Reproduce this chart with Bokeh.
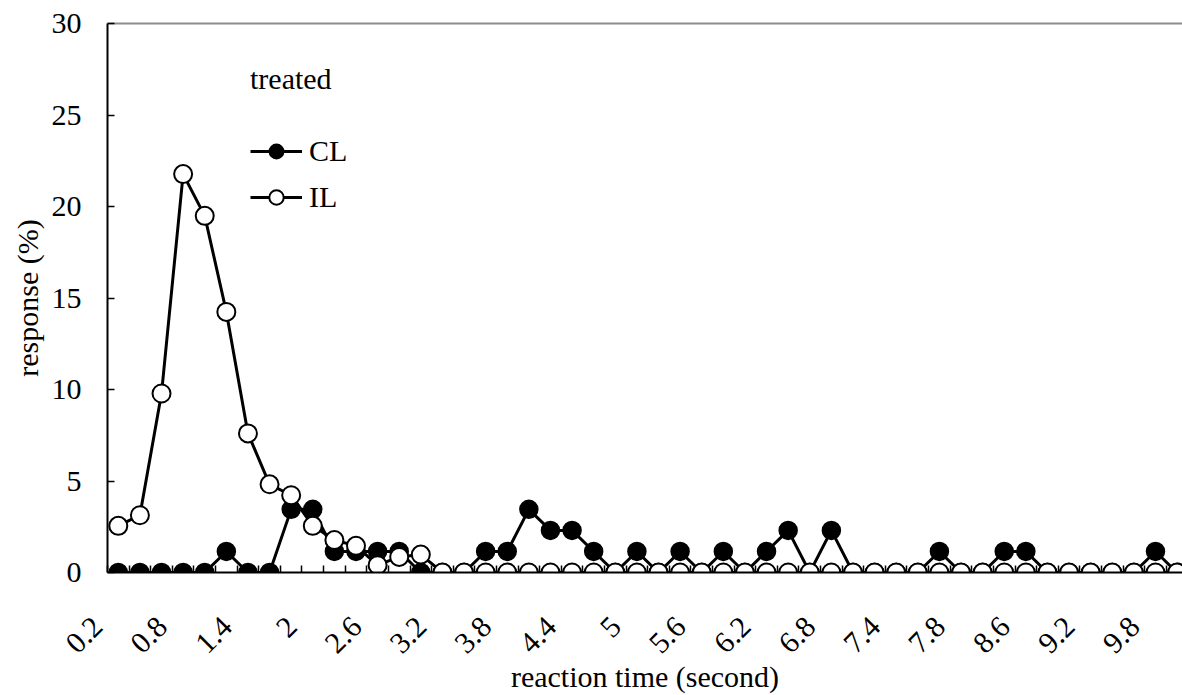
import math
from bokeh.plotting import figure
from bokeh.models import Range1d, FixedTicker, LinearAxis, Legend, LegendItem, ColumnDataSource
from bokeh.embed import file_html
from bokeh.resources import INLINE

# ---- data ----
reaction_time = [0.2, 0.4, 0.6, 0.8, 1.0, 1.2, 1.4, 1.6, 1.8, 2.0,
                 2.2, 2.4, 2.6, 2.8, 3.0, 3.2, 3.4, 3.6, 3.8, 4.0,
                 4.2, 4.4, 4.6, 4.8, 5.0, 5.2, 5.4, 5.6, 5.8, 6.0,
                 6.2, 6.4, 6.6, 6.8, 7.0, 7.2, 7.4, 7.6, 7.8, 8.0,
                 8.2, 8.4, 8.6, 8.8, 9.0, 9.2, 9.4, 9.6, 9.8, 10.0]

cl_response = [0, 0, 0, 0, 0, 1.15, 0, 0, 3.45, 3.45,
               1.15, 1.15, 1.15, 1.15, 0, 0, 0, 1.15, 1.15, 3.45,
               2.3, 2.3, 1.15, 0, 1.15, 0, 1.15, 0, 1.15, 0,
               1.15, 2.3, 0, 2.3, 0, 0, 0, 0, 1.15, 0,
               0, 1.15, 1.15, 0, 0, 0, 0, 0, 1.15, 0]

il_response = [2.55, 3.13, 9.78, 21.77, 19.49, 14.24, 7.6, 4.82, 4.22, 2.55,
               1.77, 1.46, 0.4, 0.85, 0.98, 0, 0, 0, 0, 0,
               0, 0, 0, 0, 0, 0, 0, 0, 0, 0,
               0, 0, 0, 0, 0, 0, 0, 0, 0, 0,
               0, 0, 0, 0, 0, 0, 0, 0, 0, 0]

tick_labels = ["0.2", "0.8", "1.4", "2", "2.6", "3.2", "3.8", "4.4", "5",
               "5.6", "6.2", "6.8", "7.4", "7.8", "8.6", "9.2", "9.8"]
y_ticks = [0, 5, 10, 15, 20, 25, 30]

FONT = "Liberation Serif"

idx = list(range(len(reaction_time)))
label_idx = idx[::3]
# rotated labels end up-left of their category (as in the reference)
label_pos = [i - 0.5 for i in label_idx]
PAD = "\u00a0\u00a0"
src = ColumnDataSource(dict(x=idx, rt=reaction_time, cl=cl_response, il=il_response))

p = figure(width=1182, height=695,
           x_range=Range1d(-0.5, len(idx) - 0.75), y_range=Range1d(0, 30),
           output_backend="svg", toolbar_location=None,
           min_border_left=107, min_border_right=0, min_border_top=23, min_border_bottom=123)
p.xgrid.visible = False
p.ygrid.visible = False
p.outline_line_color = None
p.background_fill_color = "white"
p.border_fill_color = "white"

# x axis: tick marks between categories, labels every 3rd category
xa = p.xaxis[0]
xa.ticker = FixedTicker(ticks=label_pos, minor_ticks=[i - 0.5 for i in range(len(idx) + 1)])
xa.major_label_overrides = {pos: lab + PAD for pos, lab in zip(label_pos, tick_labels)}
xa.major_tick_in = 0
xa.major_tick_out = 0
xa.minor_tick_in = 7
xa.minor_tick_out = 0
xa.minor_tick_line_color = "black"
xa.minor_tick_line_width = 1.5
xa.axis_line_color = "black"
xa.axis_line_width = 2
xa.major_label_orientation = math.pi / 4
xa.major_label_standoff = 38
xa.major_label_text_font = FONT
xa.major_label_text_font_size = "30px"
xa.major_label_text_color = "black"
xa.axis_label = "reaction time (second)"
xa.axis_label_text_font = FONT
xa.axis_label_text_font_size = "30px"
xa.axis_label_text_font_style = "normal"
xa.axis_label_text_color = "black"
xa.axis_label_standoff = -14

ya = p.yaxis[0]
ya.ticker = FixedTicker(ticks=y_ticks)
ya.major_tick_in = 7
ya.major_tick_out = 0
ya.major_tick_line_width = 1.5
ya.minor_tick_line_color = None
ya.axis_line_color = "black"
ya.axis_line_width = 2
ya.major_label_standoff = 26
ya.major_label_text_font = FONT
ya.major_label_text_font_size = "30px"
ya.major_label_text_color = "black"
ya.axis_label = "response (%)"
ya.axis_label_text_font = FONT
ya.axis_label_text_font_size = "30px"
ya.axis_label_text_font_style = "normal"
ya.axis_label_text_color = "black"
ya.axis_label_standoff = 5

top_axis = LinearAxis(ticker=FixedTicker(ticks=[]), axis_line_color="#8c8c8c", axis_line_width=2,
                      major_tick_line_color=None, minor_tick_line_color=None,
                      major_label_text_font_size="0px")
p.add_layout(top_axis, "above")

cl_line = p.line("x", "cl", source=src, line_color="black", line_width=3)
cl_pts = p.scatter("x", "cl", source=src, marker="circle", size=18,
                   fill_color="black", line_color="black", line_width=1.5)
il_line = p.line("x", "il", source=src, line_color="black", line_width=3)
il_pts = p.scatter("x", "il", source=src, marker="circle", size=18,
                   fill_color="white", line_color="black", line_width=2)

legend = Legend(items=[LegendItem(label="CL", renderers=[cl_line, cl_pts]),
                       LegendItem(label="IL", renderers=[il_line, il_pts])],
                title="treated", location=(143, 357), orientation="vertical",
                padding=0, margin=0, spacing=10, glyph_width=52, glyph_height=36,
                label_height=36, label_standoff=7,
                label_text_font=FONT, label_text_font_size="30px", label_text_color="black",
                title_text_font=FONT, title_text_font_size="30px",
                title_text_font_style="normal", title_text_color="black", title_standoff=37,
                border_line_color=None, background_fill_alpha=0)
p.add_layout(legend)

open("out.html", "w").write(file_html(p, INLINE))
